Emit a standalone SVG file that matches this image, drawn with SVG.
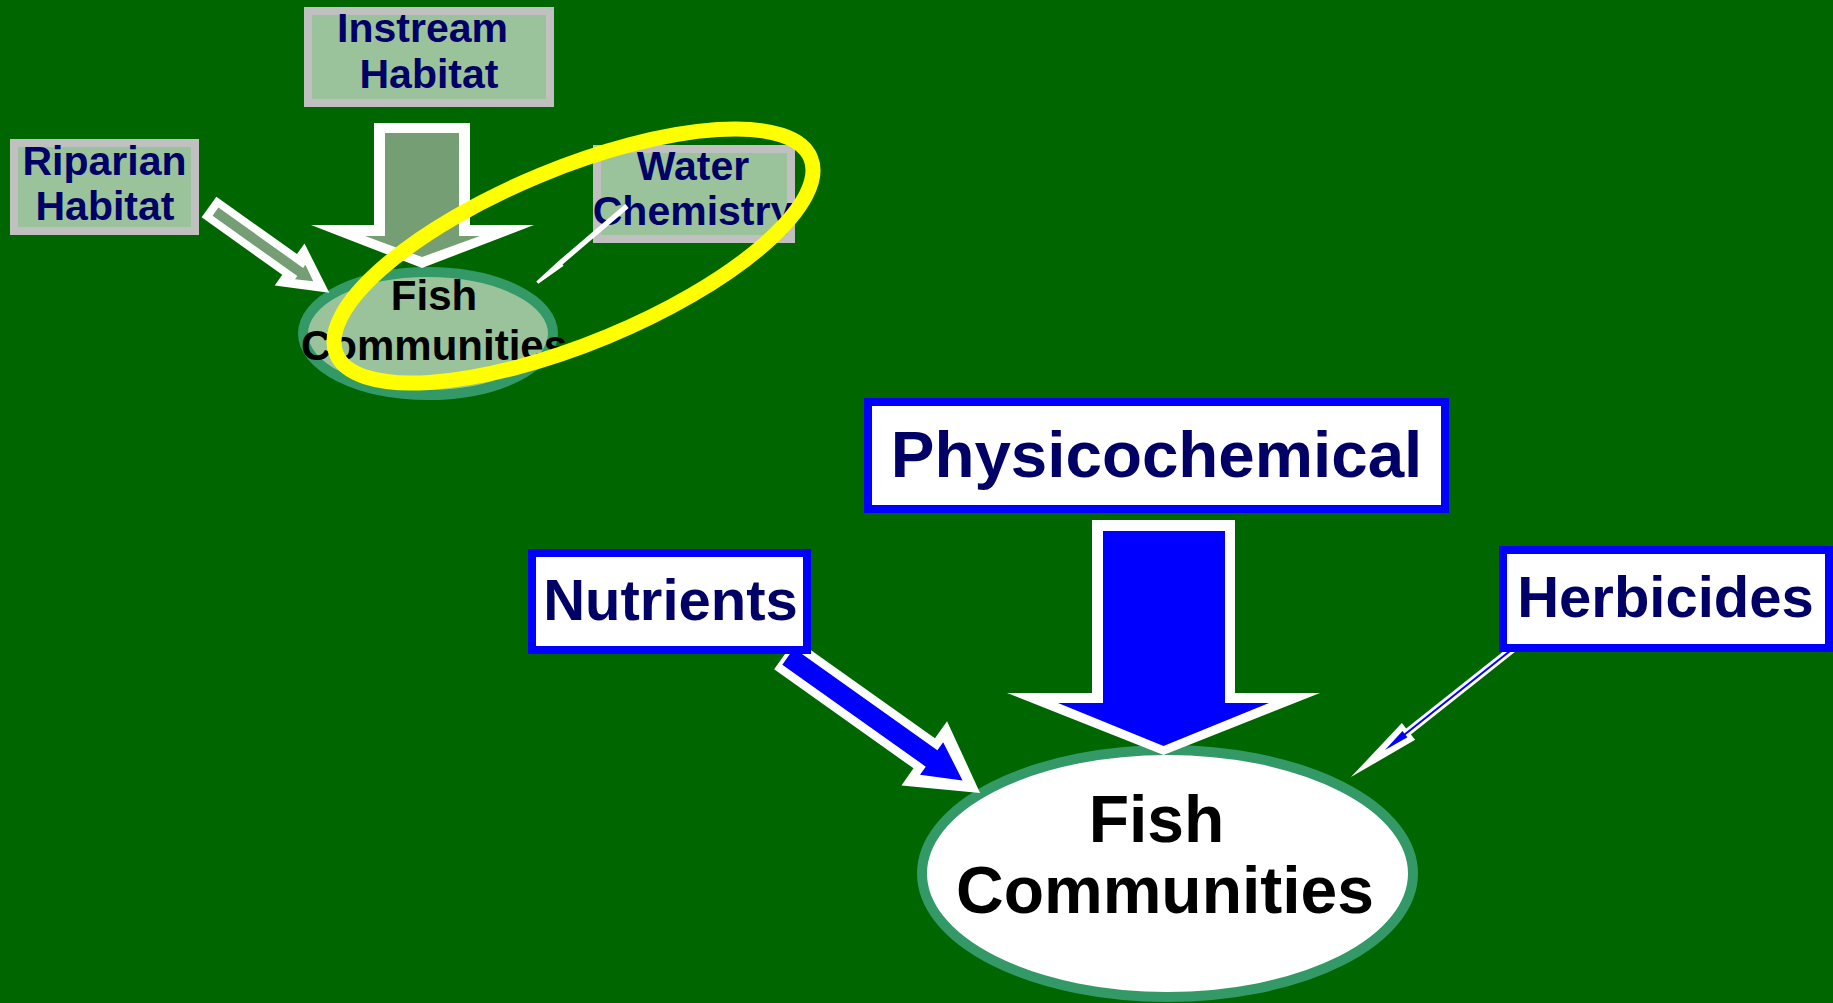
<svg xmlns="http://www.w3.org/2000/svg" width="1833" height="1003" viewBox="0 0 1833 1003">
<style>
  .t { font-family: "Liberation Sans", Arial, sans-serif; font-weight: bold; text-anchor: middle; }
  .navy { fill: #000066; }
  .blk { fill: #000000; }
  .gbox { fill: #9bc39b; stroke: #c0c0c0; stroke-width: 8; }
  .bbox { fill: #ffffff; stroke: #0000ff; stroke-width: 8; }
  .ell { stroke: #339966; stroke-width: 10; }
  .wout { fill: #ffffff; }
  .gin { fill: #759e75; }
  .bin { fill: #0000ff; }
</style>
<rect x="0" y="0" width="1833" height="1003" fill="#006600"/>

<g id="node-fish-small">
  <ellipse class="ell" cx="428" cy="333.5" rx="125" ry="61.5" fill="#9bc39b"/>
  <text class="t blk" x="434" y="310" font-size="42">Fish</text>
  <text class="t blk" x="434" y="360" font-size="42">Communities</text>
</g>

<g id="node-fish-large">
  <ellipse class="ell" cx="1167.5" cy="873.5" rx="245.5" ry="123.5" fill="#ffffff"/>
  <text class="t blk" x="1156.5" y="842" font-size="66">Fish</text>
  <text class="t blk" x="1165" y="913" font-size="66">Communities</text>
</g>

<g id="node-water-chemistry">
  <rect class="gbox" x="597" y="149" width="194" height="90"/>
  <text class="t navy" x="693" y="180" font-size="41">Water</text>
  <text class="t navy" x="693" y="225" font-size="41">Chemistry</text>
</g>

<g id="connectors">
  <!-- Instream -> Fish (small) -->
  <g id="arrow-instream">
    <polygon class="wout" points="374,123 470,123 470,225 534,225 422,268 311,225 374,225"/>
    <polygon class="gin" points="385,133 459,133 459,236 480,236 422,257 365,236 385,236"/>
  </g>
  <!-- Riparian -> Fish (small) -->
  <g id="arrow-riparian" transform="translate(209,207) rotate(35.47)">
    <polygon class="wout" points="0,-12.7 99,-12.7 99,-25.7 147.7,0 99,25.7 99,12.7 0,12.7"/>
    <polygon class="gin" points="8,-5 112,-5 112,-9 128,0 112,9 112,5 8,5"/>
  </g>
  <!-- Water Chemistry -> Fish (small) -->
  <g id="arrow-water" transform="translate(627,206) rotate(139.5)">
    <polygon class="wout" points="0,-2.6 87,-2.6 87,-4.3 118,-1.6 118,1.6 87,2.6 0,2.6"/>
  </g>
  <!-- Physicochemical -> Fish (large) -->
  <g id="arrow-physico">
    <polygon class="wout" points="1092,520 1235,520 1235,693 1320,693 1163.5,755 1007,693 1092,693"/>
    <polygon class="bin" points="1103,531 1225,531 1225,703 1269,703 1163.5,746 1058,703 1103,703"/>
  </g>
  <!-- Nutrients -> Fish (large) -->
  <g id="arrow-nutrients" transform="translate(793,660) rotate(35.4)">
    <polygon class="wout" points="-10,-18.5 161,-18.5 161,-39.4 229.5,0 161,39.4 161,18.5 -10,18.5"/>
    <polygon class="bin" points="-6,-10 170,-10 170,-20 208,0 170,20 170,10 -6,10"/>
  </g>
  <!-- Herbicides -> Fish (large) -->
  <g id="arrow-herbicides" transform="translate(1510,651) rotate(141.6)">
    <polygon class="wout" points="-4,-3.8 129.5,-3.8 129.5,-10.7 203,0 129.5,10.7 129.5,3.8 -4,3.8"/>
    <polygon class="bin" points="-4,-1 134,-1 134,-4 159.5,0 134,4 134,1 -4,1"/>
  </g>
</g>

<g id="node-instream">
  <rect class="gbox" x="308" y="11" width="242" height="92"/>
  <text class="t navy" x="422.5" y="42" font-size="41">Instream</text>
  <text class="t navy" x="429" y="88" font-size="41">Habitat</text>
</g>

<g id="node-riparian">
  <rect class="gbox" x="14" y="143" width="181" height="88"/>
  <text class="t navy" x="104.5" y="175" font-size="41">Riparian</text>
  <text class="t navy" x="105" y="220" font-size="41">Habitat</text>
</g>

<g id="node-physicochemical">
  <rect class="bbox" x="868" y="402" width="577" height="107"/>
  <text class="t navy" x="1156.5" y="477" font-size="65.5">Physicochemical</text>
</g>

<g id="node-nutrients">
  <rect class="bbox" x="532" y="553" width="275" height="97"/>
  <text class="t navy" x="670.5" y="620" font-size="58">Nutrients</text>
</g>

<g id="node-herbicides">
  <rect class="bbox" x="1503" y="550" width="326" height="98"/>
  <text class="t navy" x="1665.5" y="617" font-size="58">Herbicides</text>
</g>

<g id="highlight">
  <ellipse cx="573.5" cy="256" rx="256.6" ry="87.4" transform="rotate(-22.45 573.5 256)" fill="none" stroke="#ffff00" stroke-width="15"/>
</g>
</svg>
